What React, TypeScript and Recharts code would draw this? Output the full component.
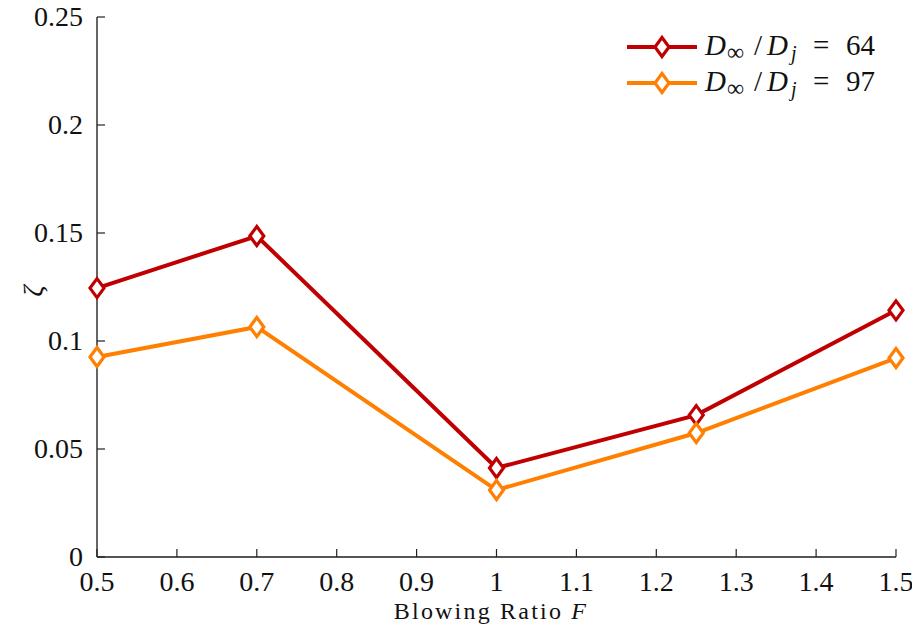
import React from 'react';
import { LineChart, Line, XAxis, YAxis, Label } from 'recharts';

const blowingRatio = [0.5, 0.7, 1.0, 1.25, 1.5];
const zeta64 = [0.1245, 0.1486, 0.0412, 0.0657, 0.1142];
const zeta97 = [0.0926, 0.1065, 0.031, 0.0574, 0.0921];
const xTicks = [0.5, 0.6, 0.7, 0.8, 0.9, 1.0, 1.1, 1.2, 1.3, 1.4, 1.5];
const yTicks = [0, 0.05, 0.1, 0.15, 0.2, 0.25];
const seriesLabels = ['64', '97'];

const RED = '#C00000';
const ORANGE = '#FF8000';
const FONT = 'Liberation Serif, Times New Roman, serif';

const data = blowingRatio.map((f, i) => ({ F: f, a: zeta64[i], b: zeta97[i] }));

const fmt = (v: number) => String(Math.round(v * 100) / 100);

const makeDot = (color: string) => (props: any) => {
  const { cx, cy, index } = props;
  if (cx == null || cy == null) return <g key={index} />;
  const hw = 7, hh = 9.5;
  return (
    <polygon
      key={index}
      points={`${cx},${cy - hh} ${cx + hw},${cy} ${cx},${cy + hh} ${cx - hw},${cy}`}
      fill="#fff"
      stroke={color}
      strokeWidth={3.2}
    />
  );
};

const XTick = (props: any) => {
  const { x, y, payload } = props;
  return (
    <g>
      <line x1={x} y1={y} x2={x} y2={y - 8} stroke="#222" strokeWidth={1.2} />
      <text x={x} y={y + 34} textAnchor="middle" fontFamily={FONT} style={{ fontFamily: FONT }} fontSize={28} fill="#111">
        {fmt(payload.value)}
      </text>
    </g>
  );
};

const YTick = (props: any) => {
  const { x, y, payload } = props;
  return (
    <g>
      <line x1={x} y1={y} x2={x + 8} y2={y} stroke="#222" strokeWidth={1.2} />
      <text x={x - 14} y={y + 9} textAnchor="end" fontFamily={FONT} style={{ fontFamily: FONT }} fontSize={28} fill="#111">
        {fmt(payload.value)}
      </text>
    </g>
  );
};

const LegendRow = ({ color, y, label }: { color: string; y: number; label: string }) => {
  const t = { fontFamily: FONT };
  const base = y + 8;
  return (
    <g>
      <line x1={7} y1={y} x2={77} y2={y} stroke={color} strokeWidth={4} />
      <polygon points={`42,${y - 9.5} 49,${y} 42,${y + 9.5} 35,${y}`} fill="#fff" stroke={color} strokeWidth={3.2} />
      <text x={85} y={base} style={t} fontSize={29} fontStyle="italic" fill="#111">D</text>
      <text x={107} y={base + 5} style={t} fontSize={24} fill="#111">∞</text>
      <text x={134} y={base} style={t} fontSize={29} fill="#111">/</text>
      <text x={147} y={base} style={t} fontSize={29} fontStyle="italic" fill="#111">D</text>
      <text x={171} y={base + 5} style={t} fontSize={20} fontStyle="italic" fill="#111">j</text>
      <text x={193} y={base} style={t} fontSize={29} fill="#111">=</text>
      <text x={226} y={base} style={t} fontSize={29} fill="#111">{label}</text>
    </g>
  );
};

export default function App() {
  return (
    <div style={{ position: 'absolute', left: 0, top: 0, width: 912, height: 630, background: '#fff', fontFamily: FONT }}>
      <LineChart width={912} height={630} data={data} margin={{ top: 17, right: 16, left: 0, bottom: 0 }}>
        <XAxis
          dataKey="F"
          type="number"
          domain={[0.5, 1.5]}
          ticks={xTicks}
          height={73}
          tickSize={0}
          tickMargin={0}
          tickLine={false}
          tick={<XTick />}
          axisLine={{ stroke: '#555', strokeWidth: 1.8 }}
          interval={0}
        >
          <Label
            content={() => (
              <text x={491} y={619} textAnchor="middle" style={{ fontFamily: FONT }} fontSize={24} letterSpacing={2.2} fill="#111">
                Blowing Ratio <tspan fontStyle="italic">F</tspan>
              </text>
            )}
          />
        </XAxis>
        <YAxis
          type="number"
          domain={[0, 0.25]}
          ticks={yTicks}
          width={97}
          tickSize={0}
          tickMargin={0}
          tickLine={false}
          tick={<YTick />}
          axisLine={{ stroke: '#555', strokeWidth: 1.8 }}
          interval={0}
        >
          <Label
            content={() => (
              <text
                x={42}
                y={291}
                textAnchor="middle"
                style={{ fontFamily: FONT }}
                fontSize={28}
                fontStyle="italic"
                fill="#111"
                transform="rotate(-90 42 291)"
              >
                ζ
              </text>
            )}
          />
        </YAxis>
        <Line type="linear" dataKey="a" stroke={RED} strokeWidth={4} dot={makeDot(RED)} activeDot={false} isAnimationActive={false} />
        <Line type="linear" dataKey="b" stroke={ORANGE} strokeWidth={4} dot={makeDot(ORANGE)} activeDot={false} isAnimationActive={false} />
      </LineChart>
      <svg width={290} height={85} style={{ position: 'absolute', left: 620, top: 25 }}>
        <LegendRow color={RED} y={22} label={seriesLabels[0]} />
        <LegendRow color={ORANGE} y={58} label={seriesLabels[1]} />
      </svg>
    </div>
  );
}
